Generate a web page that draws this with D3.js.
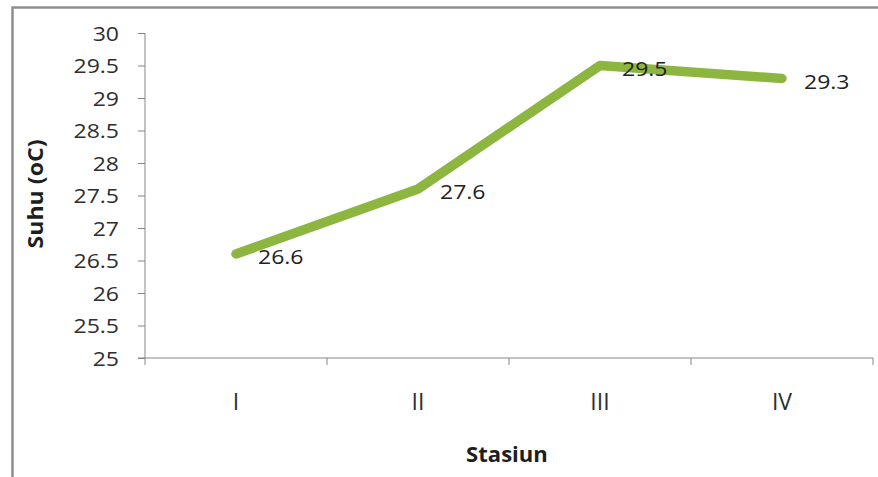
<!DOCTYPE html>
<html>
<head>
<meta charset="utf-8">
<script src="https://cdn.jsdelivr.net/npm/d3@7"></script>
<style>
  html, body { margin: 0; padding: 0; background: #fff; }
  svg { display: block; }
  text { font-family: "Open Sans", "Liberation Sans", sans-serif; }
</style>
</head>
<body>
<svg id="chart" width="878" height="477"></svg>
<script>
// Water temperature per sampling station
const stations = ["I", "II", "III", "IV"];
const suhu = [26.6, 27.6, 29.5, 29.3];
const yTicks = [25, 25.5, 26, 26.5, 27, 27.5, 28, 28.5, 29, 29.5, 30];
const yTitle = "Suhu (oC)";
const xTitle = "Stasiun";

const W = 878, H = 477;
const plot = { left: 145, right: 873, top: 33, bottom: 358 };

const svg = d3.select("#chart");
svg.append("rect").attr("width", W).attr("height", H).attr("fill", "#fff");

// chart frame
svg.append("rect")
  .attr("x", 12.5).attr("y", 7.5)
  .attr("width", W + 20).attr("height", H + 20)
  .attr("fill", "none").attr("stroke", "#8e8e8e").attr("stroke-width", 2.5);

const x = d3.scaleBand().domain(stations).range([plot.left, plot.right]).padding(0);
const y = d3.scaleLinear().domain([25, 30]).range([plot.bottom, plot.top]);

// widen glyphs slightly so the type reads like a wide UI face
function stretch(sel, k) {
  sel.each(function () {
    const len = this.getComputedTextLength();
    d3.select(this).attr("textLength", len * k).attr("lengthAdjust", "spacingAndGlyphs");
  });
}

// y axis
const yAxis = svg.append("g")
  .attr("transform", `translate(${plot.left},0)`)
  .call(d3.axisLeft(y).tickValues(yTicks).tickSize(7).tickPadding(19).tickFormat(d3.format("")));
yAxis.select(".domain").remove();
yAxis.append("line")
  .attr("x1", 0).attr("x2", 0).attr("y1", plot.top).attr("y2", plot.bottom + 7)
  .attr("stroke", "#868686").attr("stroke-width", 1);
yAxis.selectAll(".tick line").attr("stroke", "#868686");
yAxis.selectAll(".tick text")
  .attr("fill", "#2e2e2e").style("font-size", "20px").attr("dy", "0.36em");
stretch(yAxis.selectAll(".tick text"), 1.15);

// x axis
const xAxis = svg.append("g").attr("transform", `translate(0,${plot.bottom})`);
xAxis.append("line")
  .attr("x1", plot.left - 7).attr("x2", plot.right).attr("y1", 0).attr("y2", 0)
  .attr("stroke", "#868686");
const edges = stations.map(s => x(s)).concat([x(stations[stations.length - 1]) + x.bandwidth()]);
xAxis.selectAll(".edge").data(edges.slice(1)).join("line")
  .attr("x1", d => d).attr("x2", d => d).attr("y1", 0).attr("y2", 7)
  .attr("stroke", "#868686");
xAxis.selectAll(".cat").data(stations).join("text")
  .attr("x", d => x(d) + x.bandwidth() / 2)
  .attr("y", 52)
  .attr("text-anchor", "middle")
  .attr("fill", "#2e2e2e")
  .style("font-size", "23px")
  .text(d => d);

// axis titles
const xt = svg.append("text")
  .attr("x", 507).attr("y", 462)
  .attr("text-anchor", "middle")
  .attr("fill", "#1e1e1e").style("font-size", "21px").style("font-weight", "bold")
  .text(xTitle);
const yt = svg.append("text")
  .attr("transform", "translate(43,194) rotate(-90)")
  .attr("text-anchor", "middle")
  .attr("fill", "#1e1e1e").style("font-size", "21px").style("font-weight", "bold")
  .text(yTitle);
stretch(xt, 1.05);
stretch(yt, 1.1);

// temperature line
const pts = stations.map((s, i) => ({ s, v: suhu[i] }));
const line = d3.line().x(d => x(d.s) + x.bandwidth() / 2).y(d => y(d.v));
svg.append("path")
  .datum(pts)
  .attr("d", line)
  .attr("fill", "none")
  .attr("stroke", "#8cb640")
  .attr("stroke-width", 9.5)
  .attr("stroke-linecap", "round")
  .attr("stroke-linejoin", "round");

// value labels
const labels = svg.selectAll(".val").data(pts).join("text")
  .attr("x", d => x(d.s) + x.bandwidth() / 2 + 22)
  .attr("y", d => y(d.v) + 3)
  .attr("dy", "0.36em")
  .attr("fill", "#222")
  .style("font-size", "20px")
  .text(d => d3.format(".1f")(d.v));
stretch(labels, 1.15);
</script>
</body>
</html>
